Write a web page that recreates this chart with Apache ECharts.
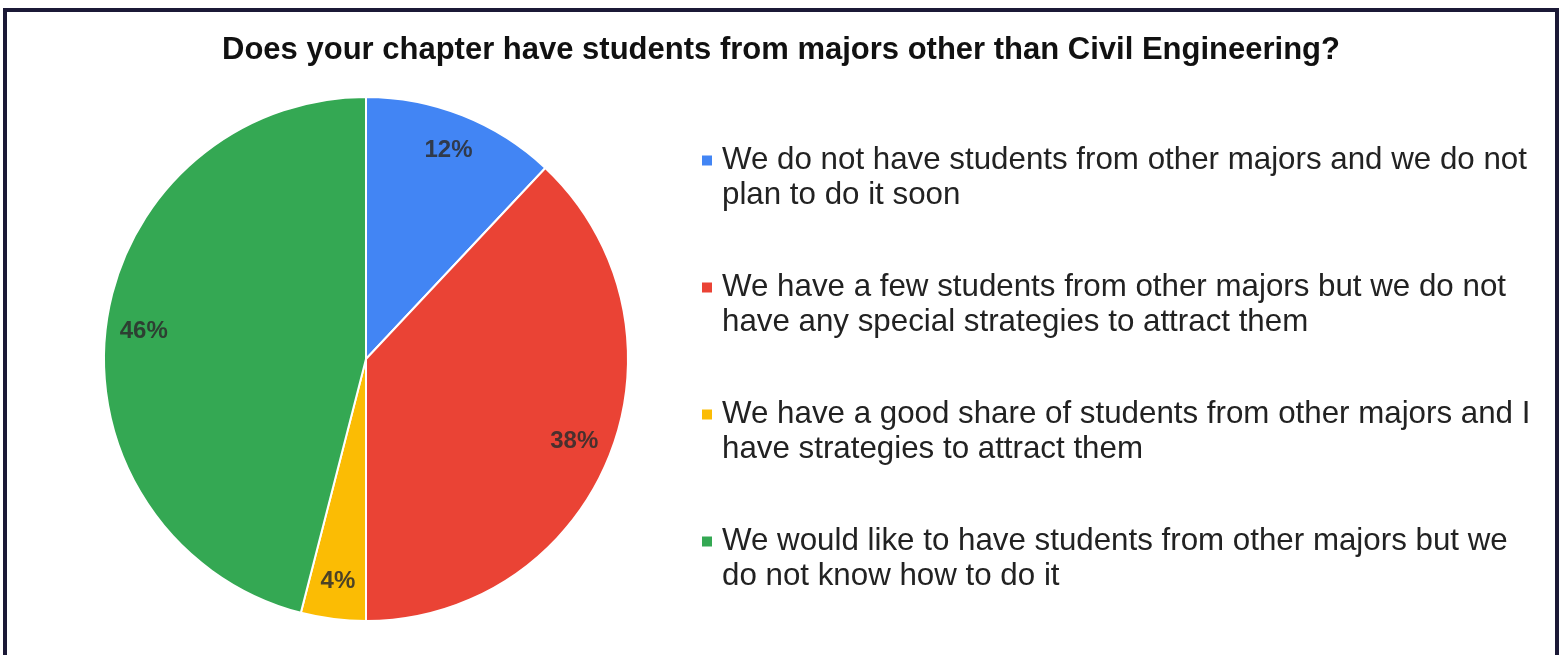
<!DOCTYPE html>
<html>
<head>
<meta charset="utf-8">
<script src="https://cdn.jsdelivr.net/npm/echarts@6/dist/echarts.min.js"></script>
<style>
  html, body { margin: 0; padding: 0; background: #ffffff; }
  #chart { width: 1562px; height: 655px; }
  #frame {
    position: absolute; left: 3px; top: 8px; width: 1548px; height: 700px;
    border: 4px solid #1b1936; border-bottom: none; pointer-events: none;
  }
</style>
</head>
<body>
<div id="chart"></div>
<div id="frame"></div>
<script>
// Survey answers (legend text wraps onto two lines) and their shares in percent
const categories = [
  'We do not have students from other majors and we do not\nplan to do it soon',
  'We have a few students from other majors but we do not\nhave any special strategies to attract them',
  'We have a good share of students from other majors and I\nhave strategies to attract them',
  'We would like to have students from other majors but we\ndo not know how to do it'
];
const shares = [12, 38, 4, 46];
const sliceColors = ['#4285F4', '#EA4335', '#FBBC04', '#34A853'];

const FONT = '"Liberation Sans", Arial, sans-serif';

const chart = echarts.init(document.getElementById('chart'));
const pieData = categories.map((name, i) => ({ name, value: shares[i], itemStyle: { color: sliceColors[i] } }));

chart.setOption({
  backgroundColor: '#ffffff',
  animation: false,
  title: {
    text: 'Does your chapter have students from majors other than Civil Engineering?',
    left: 'center',
    top: 30,
    textStyle: { fontFamily: FONT, fontSize: 31, fontWeight: 'bold', color: '#111111' }
  },
  legend: {
    orient: 'vertical',
    left: 695,
    top: 103,
    itemWidth: 12,
    itemHeight: 12,
    itemGap: 22,
    icon: 'rect',
    data: categories,
    // a leading blank line keeps the marker level with the first text line
    formatter: name => '\n' + name,
    textStyle: {
      fontFamily: FONT,
      fontSize: 31.3,
      lineHeight: 35,
      color: '#222222',
      padding: [0, 0, 0, 4]
    }
  },
  series: [
    {
      type: 'pie',
      center: [366, 359],
      radius: 262,
      startAngle: 90,
      clockwise: true,
      label: { show: false },
      labelLine: { show: false },
      itemStyle: { borderColor: '#ffffff', borderWidth: 2 },
      data: pieData
    },
    {
      // transparent ring that carries the percentage labels near the rim
      type: 'pie',
      center: [366, 359],
      radius: [180, 262],
      startAngle: 90,
      clockwise: true,
      silent: true,
      legendHoverLink: false,
      itemStyle: { color: 'rgba(0,0,0,0)', borderWidth: 0 },
      label: {
        show: true,
        position: 'inside',
        formatter: p => p.value + '%',
        fontFamily: FONT,
        fontSize: 24,
        fontWeight: 'bold',
        color: 'rgba(45,45,45,0.85)'
      },
      labelLine: { show: false },
      data: categories.map((name, i) => ({ name, value: shares[i] }))
    }
  ]
});
</script>
</body>
</html>
